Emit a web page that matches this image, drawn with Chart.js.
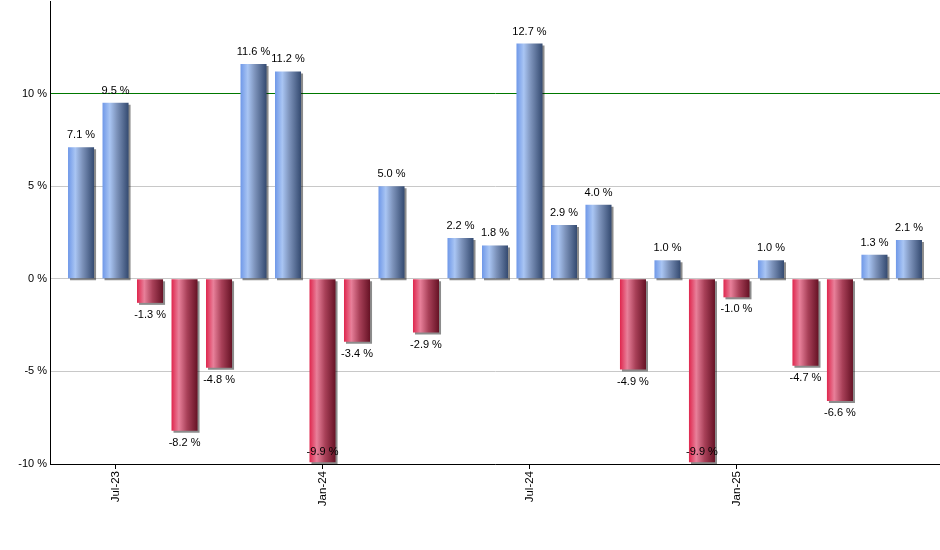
<!DOCTYPE html>
<html>
<head>
<meta charset="utf-8">
<script src="https://cdn.jsdelivr.net/npm/chart.js@4"></script>
<style>
  html, body { margin: 0; padding: 0; background: #fff; }
</style>
</head>
<body>
<canvas id="returns" width="940" height="550"></canvas>
<script>
// monthly returns, Jun-23 .. Jun-25
const months = [
  "Jun-23", "Jul-23", "Aug-23", "Sep-23", "Oct-23", "Nov-23", "Dec-23",
  "Jan-24", "Feb-24", "Mar-24", "Apr-24", "May-24", "Jun-24", "Jul-24",
  "Aug-24", "Sep-24", "Oct-24", "Nov-24", "Dec-24", "Jan-25", "Feb-25",
  "Mar-25", "Apr-25", "May-25", "Jun-25",
];
const returns = [
  7.1, 9.5, -1.3, -8.2, -4.8, 11.6, 11.2, -9.9, -3.4, 5.0, -2.9, 2.2, 1.8,
  12.7, 2.9, 4.0, -4.9, 1.0, -9.9, -1.0, 1.0, -4.7, -6.6, 1.3, 2.1,
];
const tickLabels = ["Jul-23", "Jan-24", "Jul-24", "Jan-25"];
const yTicks = [-10, -5, 0, 5, 10, 15];
const benchmark = 10;

const FONT = "'Liberation Sans', Arial, sans-serif";
const BAR_PCT = 0.755;

function barFill(c) {
  const chart = c.chart;
  const xs = chart.scales.x;
  if (c.dataIndex === undefined || !chart.chartArea || !xs) return "#7f9fd8";
  const v = returns[c.dataIndex];
  const step = xs.getPixelForValue(1) - xs.getPixelForValue(0);
  const w = step * BAR_PCT;
  const cx = xs.getPixelForValue(c.dataIndex);
  const g = chart.ctx.createLinearGradient(cx - w / 2, 0, cx + w / 2, 0);
  if (v >= 0) {
    g.addColorStop(0, "#6f98e8");
    g.addColorStop(0.28, "#a9c5f3");
    g.addColorStop(0.55, "#7d93bb");
    g.addColorStop(1, "#344a70");
  } else {
    g.addColorStop(0, "#df264d");
    g.addColorStop(0.28, "#e8809a");
    g.addColorStop(0.6, "#a84058");
    g.addColorStop(1, "#661225");
  }
  return g;
}

const shadowAndLabels = {
  id: "shadowAndLabels",
  beforeDatasetsDraw(chart) {
    const ctx = chart.ctx;
    ctx.save();
    ctx.shadowColor = "rgba(0,0,0,0.45)";
    ctx.shadowOffsetX = 2;
    ctx.shadowOffsetY = 2;
    ctx.shadowBlur = 0;
  },
  afterDatasetsDraw(chart) {
    const ctx = chart.ctx;
    ctx.restore();
    const meta = chart.getDatasetMeta(0);
    const area = chart.chartArea;
    ctx.save();
    ctx.font = "11px " + FONT;
    ctx.fillStyle = "#000";
    ctx.textAlign = "center";
    ctx.textBaseline = "middle";
    meta.data.forEach((bar, i) => {
      const v = returns[i];
      let y;
      if (v >= 0) {
        y = bar.y - 12;
      } else {
        y = bar.y + 12;
        if (y > area.bottom - 12) y = area.bottom - 12;
      }
      ctx.fillText(v.toFixed(1) + " %", bar.x, y);
    });
    ctx.restore();
  },
};

new Chart(document.getElementById("returns"), {
  type: "bar",
  data: {
    datasets: [
      {
        data: returns.map((v, i) => ({ x: i, y: v })),
        backgroundColor: barFill,
        borderWidth: 0,
        categoryPercentage: 1,
        barPercentage: BAR_PCT,
      },
    ],
  },
  options: {
    responsive: false,
    animation: false,
    events: [],
    layout: { padding: { top: 1, right: 0, bottom: 0, left: 0 } },
    plugins: {
      legend: { display: false },
      tooltip: { enabled: false },
    },
    scales: {
      x: {
        type: "linear",
        min: -0.9,
        max: 24.9,
        offset: false,
        afterBuildTicks: (scale) => {
          scale.ticks = tickLabels.map((l) => ({ value: months.indexOf(l) }));
        },
        afterFit: (scale) => {
          scale.height = 86;
        },
        ticks: {
          autoSkip: false,
          minRotation: 90,
          maxRotation: 90,
          padding: 2,
          color: "#000",
          font: { family: FONT, size: 11.5 },
          callback: (value) => months[value],
        },
        grid: {
          offset: false,
          drawOnChartArea: false,
          drawTicks: true,
          tickLength: 5,
          color: "#000",
        },
        border: { display: true, color: "#000", width: 1 },
      },
      y: {
        min: -10,
        max: 15,
        afterBuildTicks: (scale) => {
          scale.ticks = yTicks.map((v) => ({ value: v }));
        },
        afterFit: (scale) => {
          scale.width = 50;
          scale.paddingTop = 0;
        },
        ticks: {
          padding: 3,
          color: "#000",
          font: { family: FONT, size: 11 },
          callback: (value) => (value === 15 ? null : value + " %"),
        },
        grid: {
          drawTicks: false,
          color: (c) => (c.tick && c.tick.value === benchmark ? "#007800" : "#c8c8c8"),
          lineWidth: 1,
        },
        border: { display: true, color: "#000", width: 1 },
      },
    },
  },
  plugins: [shadowAndLabels],
});
</script>
</body>
</html>
